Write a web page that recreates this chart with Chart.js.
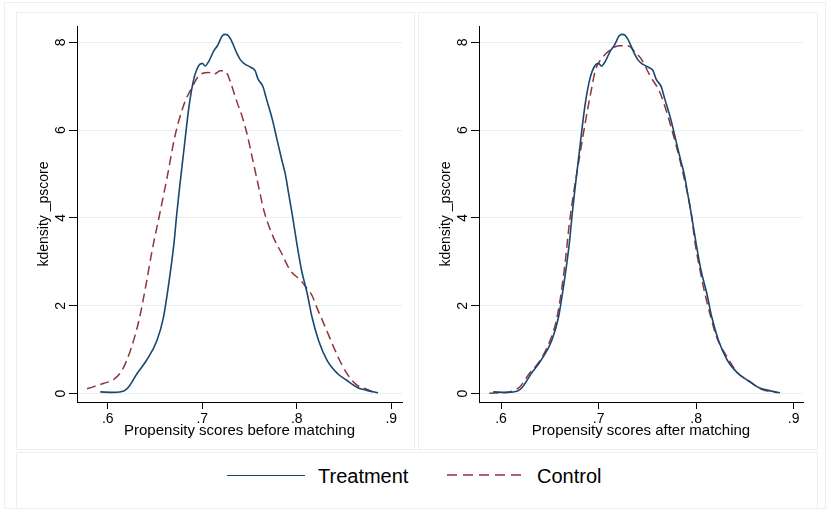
<!DOCTYPE html>
<html>
<head>
<meta charset="utf-8">
<script src="https://cdn.jsdelivr.net/npm/chart.js@4"></script>
<style>
  body { margin: 0; background: #fff; font-family: 'Liberation Sans', Arial, sans-serif; }
  #wrap { position: relative; width: 830px; height: 511px; overflow: hidden; }
  .frame { position: absolute; box-sizing: border-box; border: 1px solid #e9f0f1; }
  canvas { position: absolute; }
  .key { position: absolute; top: 475px; width: 78px; height: 0; }
  .lbl { position: absolute; top: 464px; font-size: 20px; line-height: 24px; color: #000; }
</style>
</head>
<body>
<div id="wrap">
  <div class="frame" style="left:4px;top:2px;width:822px;height:507px;"></div>
  <div class="frame" style="left:16px;top:12px;width:399px;height:438px;"></div>
  <div class="frame" style="left:418px;top:12px;width:400px;height:438px;"></div>
  <div class="frame" style="left:16px;top:452px;width:802px;height:57px;"></div>
  <canvas id="before" width="399" height="437" style="left:16px;top:12px;"></canvas>
  <canvas id="after" width="400" height="437" style="left:418px;top:12px;"></canvas>
  <div class="key" style="left:227px;border-top:1.6px solid #1a476f;"></div>
  <div class="lbl" style="left:318px;">Treatment</div>
  <svg class="key" style="left:447px;top:470px;height:10px;" width="78" height="10">
    <line x1="0" y1="5" x2="78" y2="5" stroke="#90353b" stroke-width="1.6" stroke-dasharray="10,6"></line>
  </svg>
  <div class="lbl" style="left:537px;">Control</div>
</div>
<script>
// kernel density of the propensity score
const treatX = [0.592, 0.606, 0.617, 0.622, 0.631, 0.641, 0.652, 0.659, 0.664, 0.670, 0.673, 0.676, 0.680, 0.686,
  0.691, 0.696, 0.700, 0.703, 0.707, 0.712, 0.716, 0.721, 0.724, 0.727, 0.730, 0.737, 0.740, 0.744, 0.752, 0.756,
  0.759, 0.764, 0.768, 0.774, 0.779, 0.784, 0.788, 0.791, 0.795, 0.800, 0.805, 0.811, 0.816, 0.823, 0.832, 0.843,
  0.853, 0.864, 0.874, 0.886];
const treatY = [0.04, 0.03, 0.06, 0.15, 0.46, 0.76, 1.21, 1.75, 2.43, 3.42, 4.10, 4.70, 5.45, 6.55,
  7.16, 7.46, 7.52, 7.46, 7.57, 7.80, 7.92, 8.14, 8.18, 8.16, 8.07, 7.73, 7.61, 7.52, 7.42, 7.35,
  7.16, 7.00, 6.70, 6.25, 5.79, 5.33, 4.98, 4.60, 4.10, 3.42, 2.81, 2.28, 1.75, 1.21, 0.76, 0.46,
  0.30, 0.14, 0.075, 0.02];

const ctrlBeforeX = [0.578, 0.595, 0.606, 0.615, 0.624, 0.633, 0.640, 0.647, 0.655, 0.663, 0.671, 0.680, 0.689,
  0.698, 0.707, 0.712, 0.719, 0.724, 0.727, 0.730, 0.737, 0.742, 0.747, 0.754, 0.761, 0.765, 0.775, 0.784, 0.793,
  0.804, 0.811, 0.816, 0.821, 0.830, 0.839, 0.848, 0.857, 0.864, 0.874, 0.880];
const ctrlBeforeY = [0.11, 0.23, 0.32, 0.53, 0.99, 1.67, 2.43, 3.27, 4.10, 4.95, 5.86, 6.55, 6.97,
  7.27, 7.31, 7.27, 7.35, 7.35, 7.25, 7.08, 6.62, 6.32, 5.94, 5.26, 4.57, 4.18, 3.57, 3.19, 2.81,
  2.58, 2.39, 2.24, 1.97, 1.52, 1.06, 0.645, 0.34, 0.19, 0.10, 0.04];

const ctrlAfterX = [0.588, 0.608, 0.619, 0.629, 0.639, 0.649, 0.656, 0.661, 0.666, 0.670, 0.675, 0.680, 0.687,
  0.692, 0.697, 0.704, 0.713, 0.721, 0.730, 0.738, 0.744, 0.753, 0.763, 0.770, 0.777, 0.784, 0.791, 0.795, 0.799,
  0.804, 0.809, 0.815, 0.821, 0.832, 0.842, 0.856, 0.866, 0.883];
const ctrlAfterY = [0.01, 0.04, 0.15, 0.46, 0.72, 1.14, 1.60, 2.20, 3.04, 3.87, 4.65, 5.33, 6.25,
  6.85, 7.38, 7.65, 7.84, 7.92, 7.92, 7.76, 7.61, 7.23, 6.85, 6.40, 5.86, 5.26, 4.57, 4.10, 3.42,
  2.81, 2.28, 1.75, 1.29, 0.83, 0.49, 0.26, 0.11, 0.02];

const xTicks = [0.6, 0.7, 0.8, 0.9];
const yTicks = [0, 2, 4, 6, 8];

const navy = '#1a476f';
const maroon = '#90353b';
const gridColor = '#e6eef0';
const fontFamily = "'Liberation Sans', Arial, sans-serif";

function toPoints(xs, ys) {
    return xs.map((x, i) => ({ x: x, y: ys[i] }));
}

function drawPanel(id, xTitle, ctrlX, ctrlY, xMin, xMax, padRight) {
    const ctx = document.getElementById(id).getContext('2d');
    return new Chart(ctx, {
        type: 'line',
        data: {
            datasets: [{
                label: 'Treatment',
                data: toPoints(treatX, treatY),
                borderColor: navy,
                borderWidth: 1.6,
                pointRadius: 0,
                cubicInterpolationMode: 'monotone'
            }, {
                label: 'Control',
                data: toPoints(ctrlX, ctrlY),
                borderColor: maroon,
                borderWidth: 1.5,
                borderDash: [9, 5],
                pointRadius: 0,
                cubicInterpolationMode: 'monotone'
            }]
        },
        options: {
            responsive: false,
            animation: false,
            layout: { padding: { top: 14, right: padRight, left: 0, bottom: 0 } },
            plugins: {
                legend: { display: false },
                tooltip: { enabled: false }
            },
            scales: {
                x: {
                    type: 'linear',
                    min: xMin,
                    max: xMax,
                    afterBuildTicks: s => { s.ticks = xTicks.map(v => ({ value: v })); },
                    afterFit: s => { s.height = 47; },
                    grid: { drawOnChartArea: false, drawTicks: true, tickLength: 7, tickColor: '#000' },
                    border: { color: '#000', width: 1 },
                    ticks: {
                        color: '#000',
                        padding: 2,
                        maxRotation: 0,
                        font: { family: fontFamily, size: 14 },
                        callback: v => String(v).replace(/^0/, '')
                    },
                    title: {
                        display: true,
                        text: xTitle,
                        color: '#000',
                        font: { family: fontFamily, size: 15 },
                        padding: { top: 0, bottom: 9 }
                    }
                },
                y: {
                    min: -0.19,
                    max: 8.37,
                    afterBuildTicks: s => { s.ticks = yTicks.map(v => ({ value: v })); },
                    afterFit: s => { s.width = 61; },
                    grid: { color: gridColor, drawTicks: true, tickLength: 8, tickColor: '#000' },
                    border: { color: '#000', width: 1 },
                    ticks: {
                        color: '#000',
                        padding: 4,
                        minRotation: 90,
                        maxRotation: 90,
                        crossAlign: 'center',
                        font: { family: fontFamily, size: 14 }
                    },
                    title: {
                        display: true,
                        text: 'kdensity _pscore',
                        color: '#000',
                        font: { family: fontFamily, size: 14 },
                        padding: { top: 20, bottom: 0 }
                    }
                }
            }
        }
    });
}

drawPanel('before', 'Propensity scores before matching', ctrlBeforeX, ctrlBeforeY, 0.5674, 0.9113, 13);
drawPanel('after', 'Propensity scores after matching', ctrlAfterX, ctrlAfterY, 0.5774, 0.9096, 15);
</script>
</body>
</html>
